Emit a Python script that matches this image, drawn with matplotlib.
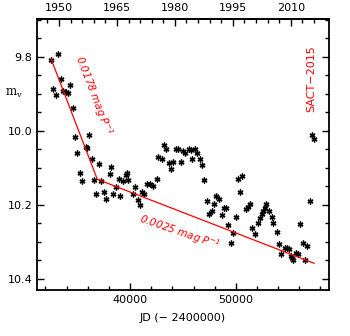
import numpy as np
import matplotlib
matplotlib.use('Agg')
import matplotlib.pyplot as plt
from matplotlib.ticker import MultipleLocator, FixedLocator

plt.rcParams['font.family'] = 'DejaVu Sans'
plt.rcParams['mathtext.default'] = 'regular'

# JD - 2400000 and visual magnitude
jd = [32530, 33210, 33440, 34340, 32720, 32950, 33680, 33980, 34140, 34560,
      34790, 36110, 35790, 35930, 34990, 36410, 37070, 38200, 35290, 35450,
      36590, 37290, 38130, 38980, 39360, 39590, 39740, 39830, 38650, 36820,
      37530, 37750, 38340, 39070, 40260, 40730, 40920, 41170, 41340, 40490,
      41630, 41860, 42150, 42500,
      43210, 43360, 44320, 44540, 45010, 45180, 45570, 45740, 46120, 46340,
      42670, 43000, 43690, 44070, 44770, 45900, 46590, 46800, 43850, 47000,
      50220, 50630, 50430, 48140, 48420, 47260, 47920, 48910, 49080, 47700,
      47470, 48650, 49970, 51320, 51160, 50970, 52880, 52740, 52550, 53150,
      52430, 53380, 52300, 52110, 53470, 49270, 51560, 51780, 53850, 49740,
      49510, 56050, 54070, 54630, 54850, 55040, 54260, 55170, 55330, 55440,
      55700, 55910, 56320, 56760, 56550, 57000, 57160, 57410]
mag = [9.809, 9.793, 9.861, 9.876, 9.888, 9.903, 9.892, 9.895, 9.899, 9.938,
       10.016, 10.012, 10.045, 10.046, 10.059, 10.077, 10.091, 10.097, 10.115, 10.135,
       10.134, 10.136, 10.116, 10.129, 10.136, 10.120, 10.115, 10.133, 10.153, 10.171,
       10.166, 10.183, 10.172, 10.175, 10.172, 10.187, 10.200, 10.165, 10.171, 10.151,
       10.144, 10.145, 10.149, 10.130,
       10.039, 10.050, 10.048, 10.048, 10.054, 10.060, 10.050, 10.052, 10.048, 10.059,
       10.072, 10.076, 10.088, 10.085, 10.084, 10.076, 10.077, 10.093, 10.104, 10.132,
       10.129, 10.123, 10.165, 10.175, 10.184, 10.190, 10.199, 10.208, 10.209, 10.216,
       10.224, 10.227, 10.232, 10.198, 10.205, 10.212, 10.198, 10.208, 10.216, 10.218,
       10.225, 10.232, 10.235, 10.249, 10.249, 10.254, 10.262, 10.278, 10.273, 10.275,
       10.303, 10.252, 10.306, 10.317, 10.316, 10.320, 10.333, 10.337, 10.343, 10.348,
       10.329, 10.332, 10.304, 10.311, 10.349, 10.189, 10.011, 10.021]

# broken linear fit
fit_jd = [32560, 36900, 57400]
fit_mag = [9.808, 10.131, 10.358]

# calendar years on the top axis
years = [1950, 1965, 1980, 1995, 2010]
minor_years = list(range(1947, 2017, 3))

fig = plt.figure(figsize=(3.5, 3.36), dpi=100)
ax = fig.add_axes([0.1057, 0.136, 0.834, 0.8074])

ax.plot(jd, mag, linestyle='none', marker=(6, 2, 0), markersize=4.2,
        markeredgewidth=1.0, color='black')
ax.plot(fit_jd, fit_mag, color='red', linewidth=0.9)

ax.set_xlim(31200, 58800)
ax.set_ylim(10.431, 9.698)

ax.xaxis.set_major_locator(MultipleLocator(10000))
ax.xaxis.set_minor_locator(MultipleLocator(2000))
ax.yaxis.set_major_locator(MultipleLocator(0.2))
ax.yaxis.set_minor_locator(MultipleLocator(0.05))
ax.yaxis.set_major_formatter(plt.FormatStrFormatter('%.1f'))

ax.tick_params(which='both', direction='in', right=True, top=False, labelsize=8, width=1.0)
ax.tick_params(which='major', length=5)
ax.tick_params(which='minor', length=2.7)
for s in ax.spines.values():
    s.set_linewidth(1.3)

def jd2yr(x):
    return 2000 + (np.asarray(x) - 51545.0) / 365.25

def yr2jd(y):
    return 51545.0 + (np.asarray(y) - 2000) * 365.25

top = ax.secondary_xaxis('top', functions=(jd2yr, yr2jd))
top.xaxis.set_major_locator(FixedLocator(years))
top.xaxis.set_minor_locator(FixedLocator(minor_years))
top.tick_params(which='both', direction='in', labelsize=8, width=1.0, pad=4)
top.tick_params(which='major', length=5)
top.tick_params(which='minor', length=2.7)
top.spines['top'].set_linewidth(1.3)

ax.set_xlabel('JD (\u2212 2400000)', fontsize=8, labelpad=6)
ax.set_ylabel('m$_v$', fontsize=8.5, rotation=0, family='DejaVu Serif')
ax.yaxis.set_label_coords(-0.08, 0.70)

ax.text(36570, 9.904, '0.0178 mag P$^{-1}$', color='red', fontsize=7.5,
        style='italic', rotation=-69, ha='center', va='center')
ax.text(44607, 10.274, '0.0025 mag P$^{-1}$', color='red', fontsize=7.5,
        style='italic', rotation=-19, ha='center', va='center')
ax.text(57160, 9.858, 'SACT\u22122015', color='red', fontsize=8,
        rotation=90, ha='center', va='center')

fig.savefig('out.png', dpi=100)
